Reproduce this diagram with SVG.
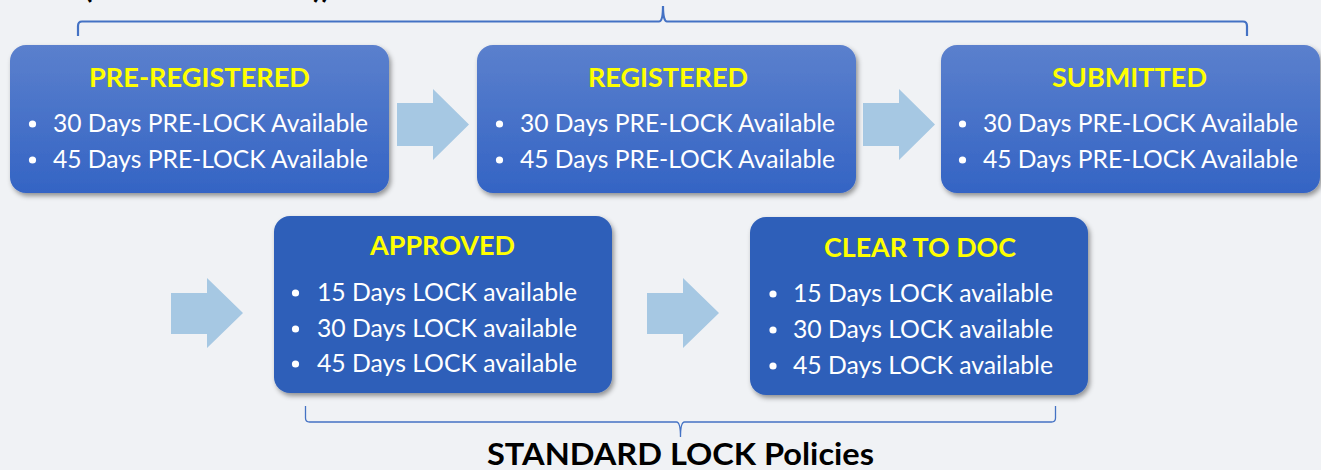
<svg xmlns="http://www.w3.org/2000/svg" width="1321" height="470" viewBox="0 0 1321 470">
  <defs>
    <linearGradient id="gradTop" x1="0" y1="0" x2="0" y2="1">
      <stop offset="0" stop-color="#5b80cd"/>
      <stop offset="1" stop-color="#3464c4"/>
    </linearGradient>
    <filter id="shadow" x="-10%" y="-10%" width="125%" height="130%">
      <feDropShadow dx="2" dy="3" stdDeviation="2.5" flood-color="#000" flood-opacity="0.4"/>
    </filter>
    <style>
      .boxTop { fill: url(#gradTop); filter: url(#shadow); }
      .boxBot { fill: #2f5fb9; filter: url(#shadow); }
      .title { font-family: Lato, "Open Sans", sans-serif; font-weight: bold; font-size: 27px; fill: #ffff00; text-anchor: middle; }
      .item { font-family: Lato, "Open Sans", sans-serif; font-size: 25px; fill: #ffffff; }
      .dot { fill: #ffffff; }
      .arrow { fill: #a6c8e3; }
      .brace { fill: none; stroke: #4472c4; }
      .caption { font-family: Lato, "Open Sans", sans-serif; font-weight: bold; font-size: 31px; fill: #000000; text-anchor: middle; }
    </style>
  </defs>

  <rect width="1321" height="470" fill="#f0f2f5"/>

  <!-- heading line running off the top edge -->
  <g id="heading">
    <text x="84" y="-2" class="caption" style="text-anchor:start">(</text>
    <text x="313" y="-2" class="caption" style="text-anchor:start">))</text>
  </g>

  <!-- braces -->
  <g id="braces">
    <path class="brace" stroke-width="2.2" d="M78,36 L78,26 Q78,21.5 82,21.5 L659,21.5 Q663,21.5 663,6 Q663,21.5 667,21.5 L1243,21.5 Q1247,21.5 1247,26 L1247,36"/>
    <path class="brace" stroke-width="1.3" d="M305.5,406 L305.5,418 Q305.5,422 309.5,422 L676.5,422 Q680.5,422 680.5,437 Q680.5,422 684.5,422 L1051.5,422 Q1055.5,422 1055.5,418 L1055.5,406"/>
  </g>

  <!-- connectors -->
  <g id="connectors">
    <polygon class="arrow" points="397,103 433,103 433,89 469,124.5 433,160 433,146 397,146"/>
    <polygon class="arrow" points="863,103 899,103 899,89 935,124.5 899,160 899,146 863,146"/>
    <polygon class="arrow" points="171,293 207,293 207,278 243,313 207,348 207,334 171,334"/>
    <polygon class="arrow" points="647,293 683,293 683,278 719,313 683,348 683,334 647,334"/>
  </g>

  <g id="pre-registered">
    <rect class="boxTop" x="10" y="45" width="379" height="148" rx="16"/>
    <text class="title" x="199.5" y="87" textLength="221" lengthAdjust="spacingAndGlyphs">PRE-REGISTERED</text>
    <circle class="dot" cx="32.5" cy="124" r="3.6"/>
    <text class="item" x="53" y="132" textLength="315" lengthAdjust="spacingAndGlyphs">30 Days PRE-LOCK Available</text>
    <circle class="dot" cx="32.5" cy="160" r="3.6"/>
    <text class="item" x="53" y="168" textLength="315" lengthAdjust="spacingAndGlyphs">45 Days PRE-LOCK Available</text>
  </g>

  <g id="registered">
    <rect class="boxTop" x="477" y="45" width="379" height="148" rx="16"/>
    <text class="title" x="668" y="87" textLength="160" lengthAdjust="spacingAndGlyphs">REGISTERED</text>
    <circle class="dot" cx="499.5" cy="124" r="3.6"/>
    <text class="item" x="520" y="132" textLength="315" lengthAdjust="spacingAndGlyphs">30 Days PRE-LOCK Available</text>
    <circle class="dot" cx="499.5" cy="160" r="3.6"/>
    <text class="item" x="520" y="168" textLength="315" lengthAdjust="spacingAndGlyphs">45 Days PRE-LOCK Available</text>
  </g>

  <g id="submitted">
    <rect class="boxTop" x="941" y="45" width="379" height="148" rx="16"/>
    <text class="title" x="1129.5" y="87" textLength="155" lengthAdjust="spacingAndGlyphs">SUBMITTED</text>
    <circle class="dot" cx="962.5" cy="124" r="3.6"/>
    <text class="item" x="983" y="132" textLength="315" lengthAdjust="spacingAndGlyphs">30 Days PRE-LOCK Available</text>
    <circle class="dot" cx="962.5" cy="160" r="3.6"/>
    <text class="item" x="983" y="168" textLength="315" lengthAdjust="spacingAndGlyphs">45 Days PRE-LOCK Available</text>
  </g>

  <g id="approved">
    <rect class="boxBot" x="274" y="216" width="338" height="177" rx="16"/>
    <text class="title" x="442.5" y="255" textLength="145" lengthAdjust="spacingAndGlyphs">APPROVED</text>
    <circle class="dot" cx="295.5" cy="293" r="3.6"/>
    <text class="item" x="317" y="301" textLength="260" lengthAdjust="spacingAndGlyphs">15 Days LOCK available</text>
    <circle class="dot" cx="295.5" cy="329" r="3.6"/>
    <text class="item" x="317" y="337" textLength="260" lengthAdjust="spacingAndGlyphs">30 Days LOCK available</text>
    <circle class="dot" cx="295.5" cy="364" r="3.6"/>
    <text class="item" x="317" y="372" textLength="260" lengthAdjust="spacingAndGlyphs">45 Days LOCK available</text>
  </g>

  <g id="clear-to-doc">
    <rect class="boxBot" x="750" y="217" width="338" height="178" rx="16"/>
    <text class="title" x="920" y="257" textLength="192" lengthAdjust="spacingAndGlyphs">CLEAR TO DOC</text>
    <circle class="dot" cx="773" cy="294" r="3.6"/>
    <text class="item" x="793" y="302" textLength="260" lengthAdjust="spacingAndGlyphs">15 Days LOCK available</text>
    <circle class="dot" cx="773" cy="330" r="3.6"/>
    <text class="item" x="793" y="338" textLength="260" lengthAdjust="spacingAndGlyphs">30 Days LOCK available</text>
    <circle class="dot" cx="773" cy="366" r="3.6"/>
    <text class="item" x="793" y="374" textLength="260" lengthAdjust="spacingAndGlyphs">45 Days LOCK available</text>
  </g>

  <g id="caption">
    <text class="caption" x="680.5" y="465" textLength="387" lengthAdjust="spacingAndGlyphs">STANDARD LOCK Policies</text>
  </g>
</svg>
